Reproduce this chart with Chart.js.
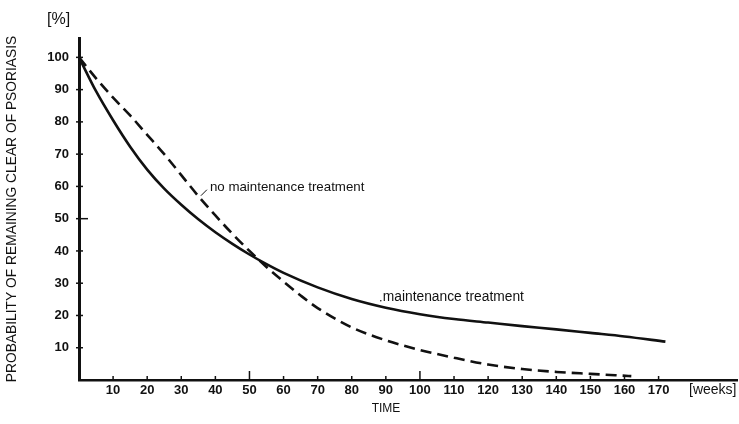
<!DOCTYPE html>
<html>
<head>
<meta charset="utf-8">
<script src="https://cdn.jsdelivr.net/npm/chart.js@4"></script>
<style>
  html, body { margin: 0; padding: 0; background: #fff; }
  #wrap { width: 739px; height: 424px; position: relative; }
</style>
</head>
<body>
<div id="wrap"><canvas id="c"></canvas></div>
<script>
// ---- data ----
const maintWeeks  = [0, 5, 10, 15, 20, 25, 30, 35, 40, 45, 50, 55, 60, 70, 80, 90, 100, 110, 120, 130, 140, 150, 160, 172];
const maintValues = [100, 89.5, 80.5, 72.3, 65.2, 59.3, 54.3, 49.8, 45.8, 42.2, 38.9, 35.9, 33.2, 28.7, 25.1, 22.4, 20.4, 18.9, 17.8, 16.7, 15.7, 14.6, 13.5, 11.9];

const noMaintWeeks  = [0, 5, 10, 15, 20, 25, 30, 35, 40, 45, 50, 55, 60, 65, 70, 80, 90, 100, 110, 120, 130, 140, 150, 162];
const noMaintValues = [100, 93.5, 87.5, 82, 76, 70, 63.5, 57, 51, 45.3, 40, 35, 30.5, 26.2, 22.3, 16.3, 12.3, 9.3, 6.9, 4.8, 3.4, 2.5, 1.9, 1.2];

const xTickValues = [10, 20, 30, 40, 50, 60, 70, 80, 90, 100, 110, 120, 130, 140, 150, 160, 170];
const yTickValues = [10, 20, 30, 40, 50, 60, 70, 80, 90, 100];

const seriesNames = ['maintenance treatment', 'no maintenance treatment'];
const yTitle = 'PROBABILITY OF REMAINING CLEAR OF PSORIASIS';
const xTitle = 'TIME';
const yUnit = '[%]';
const xUnit = '[weeks]';

const toPts = (xs, ys) => xs.map((x, i) => ({ x: x, y: ys[i] }));

const FONT = "'Liberation Sans', Arial, Helvetica, sans-serif";
Chart.defaults.font.family = FONT;
Chart.defaults.color = '#111';

const annotationPlugin = {
  id: 'annot',
  afterDraw(chart) {
    const ctx = chart.ctx;
    const xs = chart.scales.x, ys = chart.scales.y;
    const area = chart.chartArea;
    ctx.save();
    ctx.strokeStyle = '#111';
    ctx.fillStyle = '#111';
    // inward tick marks on the y axis
    ctx.lineWidth = 1.5;
    yTickValues.forEach(v => {
      const y = ys.getPixelForValue(v);
      const len = v === 50 ? 9 : 4;
      ctx.beginPath();
      ctx.moveTo(area.left - 3, y);
      ctx.lineTo(area.left + len, y);
      ctx.stroke();
    });
    // inward tick marks on the x axis
    xTickValues.forEach(v => {
      const x = xs.getPixelForValue(v);
      const len = (v === 50 || v === 100) ? 9 : 4;
      ctx.beginPath();
      ctx.moveTo(x, area.bottom);
      ctx.lineTo(x, area.bottom - len);
      ctx.stroke();
    });
    // unit labels and axis title
    ctx.textBaseline = 'middle';
    ctx.textAlign = 'left';
    ctx.font = '16px ' + FONT;
    ctx.fillText(yUnit, 47, 20);
    ctx.font = '14px ' + FONT;
    ctx.fillText(xUnit, 689, area.bottom + 10);
    ctx.font = '12px ' + FONT;
    ctx.textAlign = 'center';
    ctx.fillText(xTitle, 386, 409);
    // series labels with leader marks
    ctx.font = '13.3px ' + FONT;
    ctx.textAlign = 'left';
    let lx = xs.getPixelForValue(38.4), ly = ys.getPixelForValue(59.6);
    ctx.fillText(seriesNames[1], lx, ly);
    ctx.lineWidth = 1;
    ctx.beginPath();
    ctx.moveTo(lx - 9, ly + 8);
    ctx.lineTo(lx - 3, ly + 2);
    ctx.stroke();
    ctx.font = '13.8px ' + FONT;
    lx = xs.getPixelForValue(89.1); ly = ys.getPixelForValue(25.8);
    ctx.fillText(seriesNames[0], lx, ly);
    ctx.beginPath();
    ctx.arc(lx - 2, ly + 4, 0.8, 0, Math.PI * 2);
    ctx.fill();
    ctx.restore();
  }
};

new Chart(document.getElementById('c'), {
  type: 'line',
  data: {
    datasets: [
      {
        label: seriesNames[0],
        data: toPts(maintWeeks, maintValues),
        borderColor: '#111',
        borderWidth: 2.6,
        pointRadius: 0,
        cubicInterpolationMode: 'monotone',
        fill: false
      },
      {
        label: seriesNames[1],
        data: toPts(noMaintWeeks, noMaintValues),
        borderColor: '#111',
        borderWidth: 2.6,
        borderDash: [11, 6],
        pointRadius: 0,
        cubicInterpolationMode: 'monotone',
        fill: false
      }
    ]
  },
  options: {
    responsive: true,
    maintainAspectRatio: false,
    animation: false,
    devicePixelRatio: 1,
    layout: { padding: { left: 4, right: 2, top: 38, bottom: 0 } },
    plugins: { legend: { display: false }, tooltip: { enabled: false } },
    scales: {
      x: {
        type: 'linear',
        min: 0,
        max: 193,
        afterFit: s => { s.height = 44; },
        afterBuildTicks: s => { s.ticks = xTickValues.map(v => ({ value: v })); },
        border: { display: true, color: '#111', width: 2.5 },
        grid: { display: true, drawOnChartArea: false, drawTicks: false },
        ticks: {
          autoSkip: false,
          maxRotation: 0,
          padding: 3,
          color: '#111',
          font: { size: 13, weight: 'bold' }
        }
      },
      y: {
        type: 'linear',
        min: 0,
        max: 106,
        afterFit: s => { s.width = 75; },
        afterBuildTicks: s => { s.ticks = yTickValues.map(v => ({ value: v })); },
        border: { display: true, color: '#111', width: 3 },
        grid: { display: true, drawOnChartArea: false, drawTicks: false },
        ticks: {
          padding: 10,
          color: '#111',
          font: { size: 13, weight: 'bold' }
        },
        title: {
          display: true,
          text: yTitle,
          color: '#111',
          padding: { top: 0, bottom: 0 },
          font: { size: 13.8, weight: 'normal' }
        }
      }
    }
  },
  plugins: [annotationPlugin]
});
</script>
</body>
</html>
